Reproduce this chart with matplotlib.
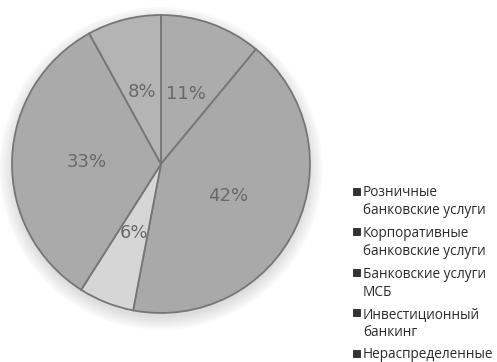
import matplotlib
matplotlib.use("Agg")
import matplotlib.pyplot as plt
from matplotlib.patches import Circle, Rectangle

# Revenue split by business line, clockwise from 12 o'clock
segments = [
    "Розничные\nбанковские услуги",
    "Корпоративные\nбанковские услуги",
    "Банковские услуги\nМСБ",
    "Инвестиционный\nбанкинг",
    "Нераспределенные",
]
shares = [11, 42, 6, 33, 8]
fills = ["#acacac", "#a9a9a9", "#d6d6d6", "#aaaaaa", "#b4b4b4"]

fig = plt.figure(figsize=(4.97, 3.62), dpi=100)
fig.patch.set_facecolor("white")

W, H = 497, 362
cx, cy, r = 161, 164, 149
ax = fig.add_axes([(cx - r) / W, (H - cy - r) / H, 2 * r / W, 2 * r / H])
ax.axis("off")

# soft drop shadow under the pie
for k in range(8):
    ax.add_patch(Circle((0.0, -0.03), 1.0 + 0.012 * k, color="#888888",
                        alpha=0.035, lw=0, zorder=0))

wedges, texts, autotexts = ax.pie(
    shares,
    colors=fills,
    startangle=90,
    counterclock=False,
    radius=1.0,
    autopct="%1.0f%%",
    pctdistance=0.5,
    wedgeprops=dict(edgecolor="#767676", linewidth=1.3),
    textprops=dict(fontsize=13, color="#686868"),
)
for w in wedges:
    w.set_zorder(2)
for t in autotexts:
    t.set_zorder(3)
ax.set_xlim(-1, 1)
ax.set_ylim(-1, 1)
ax.set_aspect("equal")
for p in ax.patches:
    p.set_clip_on(False)

# legend: square swatch next to the first line of each entry
lx, top0, pitch, line_h = 363, 187, 40.5, 18
for i, (w, label) in enumerate(zip(wedges, segments)):
    top = top0 + pitch * i
    fig.patches.append(Rectangle(((lx - 10) / W, 1 - (top + 7.5) / H),
                                 7 / W, 7 / H, transform=fig.transFigure,
                                 facecolor="#333333", edgecolor="#222222",
                                 lw=0.6))
    for j, line in enumerate(label.split("\n")):
        fig.text(lx / W, 1 - (top + 9.5 + line_h * j) / H, line,
                 ha="left", va="baseline", family="Open Sans", size=9.8,
                 color="#2a2a2a")

fig.savefig("out.png", dpi=100)
